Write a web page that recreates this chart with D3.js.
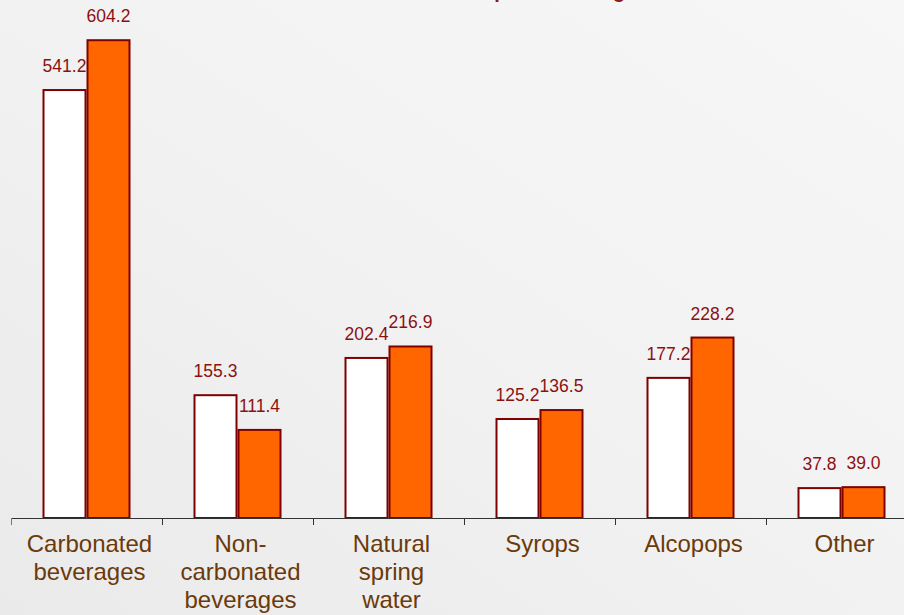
<!DOCTYPE html>
<html>
<head>
<meta charset="utf-8">
<script src="https://cdn.jsdelivr.net/npm/d3@7"></script>
<style>
  html, body { margin: 0; padding: 0; }
  body { width: 904px; height: 615px; overflow: hidden; }
  svg { display: block; font-family: Arial, "Liberation Sans", sans-serif; }
</style>
</head>
<body>
<svg id="chart" width="904" height="615"></svg>
<script>
// Beverage segments and their volumes for the two periods
const categories = [
  "Carbonated\nbeverages",
  "Non-\ncarbonated\nbeverages",
  "Natural\nspring\nwater",
  "Syrops",
  "Alcopops",
  "Other"
];
const seriesNames = ["Previous", "Current"];
const previousValues = [541.2, 155.3, 202.4, 125.2, 177.2, 37.8];
const currentValues  = [604.2, 111.4, 216.9, 136.5, 228.2, 39.0];
const titleText = "Sales of top brands: segment view";

const W = 904, H = 615;
const svg = d3.select("#chart");

// soft gray backdrop
const defs = svg.append("defs");
const grad = defs.append("linearGradient")
  .attr("id", "bg").attr("x1", "1").attr("y1", "0").attr("x2", "0").attr("y2", "1");
grad.append("stop").attr("offset", "0%").attr("stop-color", "#f7f7f7");
grad.append("stop").attr("offset", "55%").attr("stop-color", "#f1f1f1");
grad.append("stop").attr("offset", "100%").attr("stop-color", "#eaeaea");
svg.append("rect").attr("width", W).attr("height", H).attr("fill", "url(#bg)");

// title sits above the top edge; only its descenders reach into view
svg.append("text")
  .attr("x", 393).attr("y", -2)
  .attr("font-size", 20).attr("font-weight", "bold")
  .attr("fill", "#8b1a1a")
  .text(titleText);

const baseY = 518;
const x0 = d3.scaleBand().domain(categories).range([11, 11 + 151 * categories.length]).padding(0);
const x1 = d3.scaleBand().domain(seriesNames).range([0, x0.bandwidth()]).paddingInner(0).paddingOuter(0.716);
const y = d3.scaleLinear().domain([0, 650]).range([baseY, 4]);

const fills = { Previous: "#ffffff", Current: "#ff6600" };

const rows = categories.map((c, i) => ({
  cat: c,
  vals: [
    { s: "Previous", v: previousValues[i] },
    { s: "Current", v: currentValues[i] }
  ]
}));

const groups = svg.selectAll("g.cat").data(rows).join("g")
  .attr("class", "cat")
  .attr("transform", d => `translate(${x0(d.cat)},0)`);

groups.selectAll("rect").data(d => d.vals).join("rect")
  .attr("x", d => x1(d.s) + 1)
  .attr("y", d => y(d.v))
  .attr("width", x1.bandwidth() - 2)
  .attr("height", d => baseY - y(d.v))
  .attr("fill", d => fills[d.s])
  .attr("stroke", "#7f0000")
  .attr("stroke-width", 2);

groups.selectAll("text.val").data(d => d.vals).join("text")
  .attr("class", "val")
  .attr("x", d => x1(d.s) + x1.bandwidth() / 2)
  .attr("y", d => y(d.v) - 18)
  .attr("text-anchor", "middle")
  .attr("font-size", 17.5)
  .attr("fill", "#8b1111")
  .text(d => d.v.toFixed(1));

// category axis
const axisG = svg.append("g");
axisG.append("line")
  .attr("x1", 11).attr("x2", W).attr("y1", baseY + 0.5).attr("y2", baseY + 0.5)
  .attr("stroke", "#333").attr("stroke-width", 1);
axisG.selectAll("line.tick").data(categories).join("line")
  .attr("class", "tick")
  .attr("x1", d => Math.round(x0(d)) + 0.5).attr("x2", d => Math.round(x0(d)) + 0.5)
  .attr("y1", baseY).attr("y2", baseY + 7)
  .attr("stroke", (d, i) => i === 0 ? "#777" : "#333").attr("stroke-width", 1);

const labels = axisG.selectAll("text.cat").data(categories).join("text")
  .attr("class", "cat")
  .attr("text-anchor", "middle")
  .attr("font-size", 24)
  .attr("fill", "#6b3a0a");
labels.each(function(d) {
  const t = d3.select(this);
  d.split("\n").forEach((line, i) => {
    t.append("tspan")
      .attr("x", x0(d) + x0.bandwidth() / 2 + 3)
      .attr("y", baseY + 34 + i * 28)
      .text(line);
  });
});
</script>
</body>
</html>
